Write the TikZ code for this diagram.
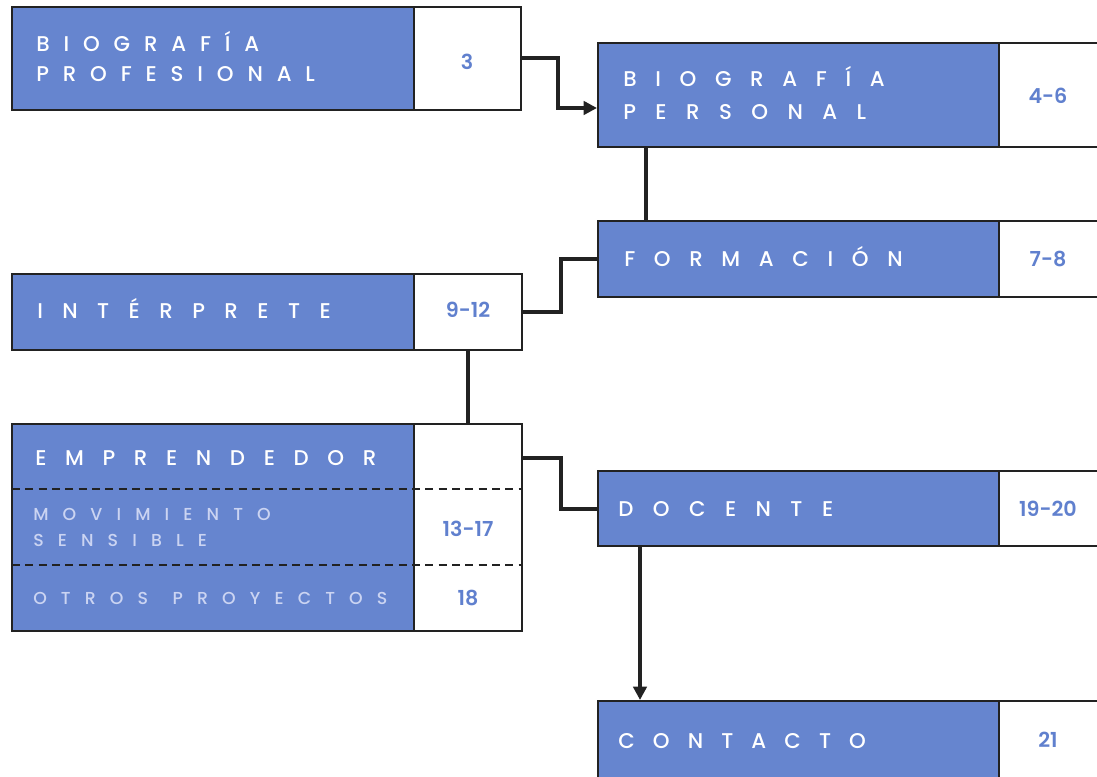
\documentclass[tikz,border=0pt]{standalone}
\usepackage{fontspec}
\setmainfont{Poppins}
\newfontfamily\medfont{Poppins Medium}
\newfontfamily\sbfont{Poppins SemiBold}
\usetikzlibrary{arrows.meta,fit,calc}
\definecolor{bfill}{RGB}{102,133,207}
\definecolor{bline}{RGB}{34,34,34}
\definecolor{subtxt}{RGB}{203,212,242}
\definecolor{numc}{RGB}{96,128,206}
\newlength\lsp
\setlength\lsp{14pt}
\def\spc#1{\spcA#1\relax}
\def\spcA#1{\ifx#1\relax\else\ifx#1~\hspace{0.6em}\else#1\hspace{\lsp}\fi\expandafter\spcA\fi}
\tikzset{
  bluebox/.style={draw=bline, line width=1.5pt, fill=bfill, inner sep=0pt},
  whitebox/.style={draw=bline, line width=1.5pt, fill=white, inner sep=0pt},
  lbl/.style={anchor=base west, text=white, inner sep=0pt, font=\medfont\fontsize{16}{20}\selectfont},
  sublbl/.style={anchor=base west, text=subtxt, inner sep=0pt, font=\medfont\fontsize{13}{16}\selectfont, tracking=10.6pt},
  tracking/.style={execute at begin node={\setlength\lsp{#1}}},
  num/.style={anchor=base, text=numc, inner sep=0pt, font=\sbfont\fontsize{15.5}{18}\selectfont},
  conn/.style={draw=bline, line width=3pt},
  arr/.style={conn, -{Triangle[length=10pt,width=10pt]}},
  sep/.style={draw=bline, line width=1.2pt, dash pattern=on 6pt off 4pt}
}
\begin{document}
\begin{tikzpicture}[x=0.75pt,y=-0.75pt]
\useasboundingbox (0,0) rectangle (1097,777);
% boxes
\node[bluebox, fit={(12,7) (414,110)}] (bprofB) {};
\node[whitebox, fit={(414,7) (521,110)}] (bprofW) {};
\node[bluebox, fit={(598,43) (999,147)}] (bpersB) {};
\node[whitebox, fit={(999,43) (1104,147)}] (bpersW) {};
\node[bluebox, fit={(598,221) (999,297)}] (formB) {};
\node[whitebox, fit={(999,221) (1104,297)}] (formW) {};
\node[bluebox, fit={(12,274) (414,350)}] (interB) {};
\node[whitebox, fit={(414,274) (522,350)}] (interW) {};
\node[bluebox, fit={(12,424) (414,631)}] (empB) {};
\node[whitebox, fit={(414,424) (522,631)}] (empW) {};
\node[bluebox, fit={(598,471) (999,546)}] (docB) {};
\node[whitebox, fit={(999,471) (1104,546)}] (docW) {};
\node[bluebox, fit={(598,701) (999,792)}] (contB) {};
\node[whitebox, fit={(999,701) (1104,792)}] (contW) {};
% dashed separators
\coordinate (s1a) at (12,489); \coordinate (s1b) at (522,489);
\coordinate (s2a) at (12,565); \coordinate (s2b) at (522,565);
\draw[sep] (s1a) -- (s1b);
\draw[sep] (s2a) -- (s2b);
% labels
\node[lbl, tracking=10.4pt] (t1a) at (36,52) {\spc{BIOGRAFÍA}};
\node[lbl, tracking=10.4pt] (t1b) at (36,82) {\spc{PROFESIONAL}};
\node[lbl] (t2a) at (623,87) {\spc{BIOGRAFÍA}};
\node[lbl, tracking=14.6pt] (t2b) at (623,120) {\spc{PERSONAL}};
\node[lbl] (t3) at (624,267) {\spc{FORMACIÓN}};
\node[lbl, tracking=14.6pt] (t4) at (37,319) {\spc{INTÉRPRETE}};
\node[lbl] (t5) at (35,465) {\spc{EMPRENDEDOR}};
\node[sublbl] (t6a) at (33,520) {\spc{MOVIMIENTO}};
\node[sublbl] (t6b) at (33,546) {\spc{SENSIBLE}};
\node[sublbl] (t7) at (33,604) {\spc{OTROS~PROYECTOS}};
\node[lbl, tracking=14.6pt] (t8) at (618,516) {\spc{DOCENTE}};
\node[lbl, tracking=13.6pt] (t9) at (618,748) {\spc{CONTACTO}};
% numbers
\node[num] (n1) at (467,70) {3};
\node[num] (n2) at (1048,104) {4-6};
\node[num] (n3) at (1048,267) {7-8};
\node[num] (n4) at (468,318) {9-12};
\node[num] (n5) at (468,537) {13-17};
\node[num] (n6) at (468,605) {18};
\node[num] (n7) at (1048,516) {19-20};
\node[num] (n8) at (1048,747) {21};
% connectors
\draw[arr] (bprofW.east) -- ++(36,0) |- ([yshift=-9.75pt]bpersB.west);
\draw[conn] ([xshift=36.75pt]bpersB.south west) -- ([xshift=36.75pt]formB.north west);
\draw[conn] (formB.west) -- ++(-36,0) |- (interW.east);
\draw[conn] (interW.south) -- (empW.north);
\draw[conn] ([yshift=52pt]empW.east) -- ++(38,0) |- (docB.west);
\draw[arr] ([xshift=32.25pt]docB.south west) -- ([xshift=32.25pt]contB.north west);
\end{tikzpicture}
\end{document}
